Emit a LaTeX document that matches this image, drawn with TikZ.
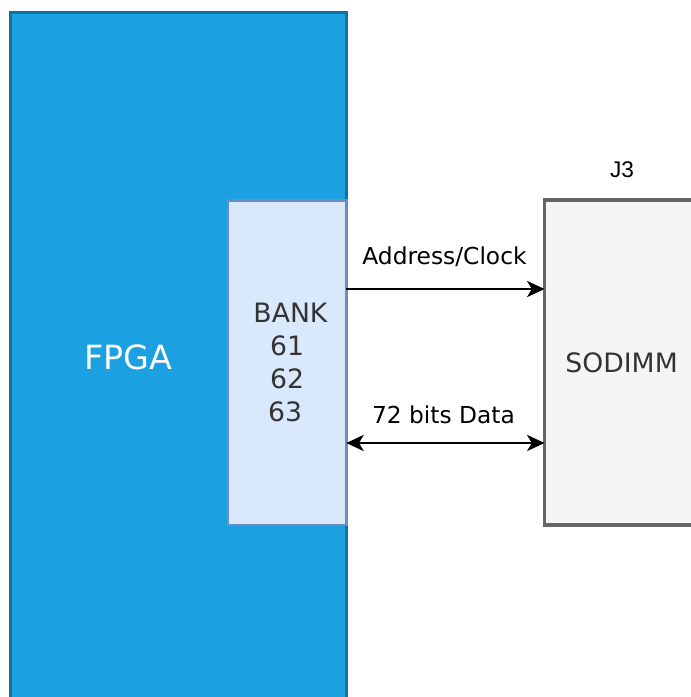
\documentclass[tikz,border=0pt]{standalone}
\usepackage{fontspec}
\setmainfont{DejaVu Sans}
\newfontfamily\refdesfont{Liberation Sans}
\usetikzlibrary{arrows.meta}

\definecolor{fpgafill}{RGB}{27,161,226}
\definecolor{fpgaline}{RGB}{16,115,158}
\definecolor{bankfill}{RGB}{218,232,252}
\definecolor{bankline}{RGB}{108,142,191}
\definecolor{dimmfill}{RGB}{245,245,245}
\definecolor{dimmline}{RGB}{102,102,102}
\definecolor{darktext}{RGB}{51,51,51}

\tikzset{every picture/.style={line width=0.75pt}}
\tikzset{
  block/.style={rectangle, inner sep=0pt, outer sep=0pt},
  bustip/.tip={Stealth[length=13pt,width=12pt,inset=3.5pt]},
  busline/.style={line width=2.2, bustip-bustip},
  ctrlline/.style={line width=2.2, -bustip},
  buslabel/.style={font=\fontsize{17.5}{21}\selectfont, text=black}
}

\begin{document}
\begin{tikzpicture}[x=0.75pt,y=0.75pt,yscale=-1,xscale=1]
	\useasboundingbox (0,0) rectangle (691,697);
	\clip (0,0) rectangle (691,697);

	%Shape: Rectangle [id:fpga]
	\node[block, draw=fpgaline, fill=fpgafill, line width=1.9, minimum width=251.85pt, minimum height=560.6pt] (fpga) at (178.4,386.25) {};
	%Shape: Rectangle [id:bank]
	\node[block, draw=bankline, fill=bankfill, line width=1.9, minimum width=88.7pt, minimum height=243.4pt, align=center, text=darktext,
	      font=\fontsize{20}{24.75}\selectfont] (bank) at (287.15,362.75)
	      {\hspace*{5pt}BANK\\61\hspace*{3pt}\\62\hspace*{3pt}\\63\hspace*{3pt}};
	%Shape: Rectangle [id:sodimm]
	\node[block, draw=dimmline, fill=dimmfill, line width=2.6, minimum width=116.6pt, minimum height=243.75pt, text=darktext,
	      font=\fontsize{20}{24}\selectfont] (sodimm) at (622.25,362.5) {\hspace*{-1pt}SODIMM};

	% Text Node
	\node[text=white, font=\fontsize{25}{30}\selectfont] (fpgalabel) at (128,357) {FPGA};
	% Text Node
	\node[font=\refdesfont\fontsize{17}{20}\selectfont] (j3) at (622,170) {J3};

	%Straight Lines [id:addrclk]
	\draw[ctrlline] (bank.east |- 0,289) -- (sodimm.west |- 0,289);
	%Straight Lines [id:data]
	\draw[busline] (bank.east |- 0,443) -- (sodimm.west |- 0,443);

	% Text Node
	\node[buslabel] (addrlabel) at (444.5,257) {Address/Clock};
	% Text Node
	\node[buslabel] (datalabel) at (443.5,415) {72 bits Data};

\end{tikzpicture}
\end{document}
